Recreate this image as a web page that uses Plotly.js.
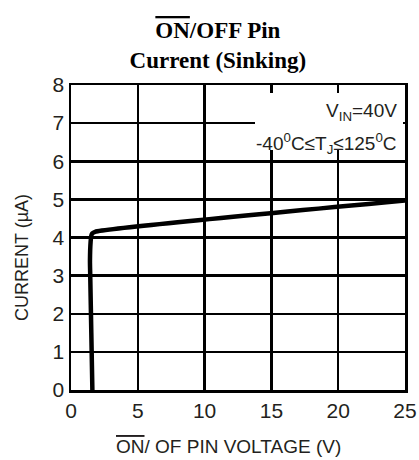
<!DOCTYPE html>
<html>
<head>
<meta charset="utf-8">
<script src="https://cdn.plot.ly/plotly-3.0.1.min.js"></script>
<style>
html,body{margin:0;padding:0;background:#fff;}
#chart{width:419px;height:460px;}
</style>
</head>
<body>
<div id="chart"></div>
<script>
// Data
const pinVoltage = [1.60, 1.52, 1.44, 1.42, 1.47, 1.52, 1.60, 1.80, 25];
const pinCurrent = [0.00, 1.50, 3.00, 3.40, 3.90, 4.05, 4.11, 4.15, 4.97];
const xTicks = [0, 5, 10, 15, 20, 25];
const yTicks = [0, 1, 2, 3, 4, 5, 6, 7, 8];

const W = 419, H = 460;
const M = {l: 71, r: 14, t: 85, b: 70};
const pw = W - M.l - M.r, ph = H - M.t - M.b;
const px = v => (v - M.l) / pw;           // page x -> paper x
const py = v => (H - M.b - v) / ph;       // page y -> paper y

const sans = 'Liberation Sans, Arial, sans-serif';
const txt = '#231f20';

const trace = {
  x: pinVoltage, y: pinCurrent, type: 'scatter', mode: 'lines',
  line: {color: '#000', width: 4.5, shape: 'spline', smoothing: 0.6},
  hoverinfo: 'skip', showlegend: false
};

const layout = {
  width: W, height: H,
  margin: M,
  paper_bgcolor: '#fff', plot_bgcolor: '#fff',
  title: {
    text: '<span style="text-decoration:overline">ON</span>/OFF Pin<br>Current (Sinking)',
    font: {family: 'Liberation Serif, Times New Roman, serif', size: 23, color: '#000', weight: 'bold'},
    x: 0.52, xanchor: 'center', xref: 'container',
    y: 1 - 38 / H, yanchor: 'top', yref: 'container'
  },
  xaxis: {
    range: [0, 25], tickvals: xTicks, ticktext: xTicks.map(String),
    showgrid: true, gridcolor: '#000', gridwidth: 2.5,
    showline: true, mirror: true, linecolor: '#000', linewidth: 2.5,
    zeroline: false, ticks: '', fixedrange: true,
    tickfont: {family: sans, size: 21, color: txt}
  },
  yaxis: {
    range: [0, 8], tickvals: yTicks, ticktext: yTicks.map(String),
    showgrid: true, gridcolor: '#000', gridwidth: 2.5,
    showline: true, mirror: true, linecolor: '#000', linewidth: 2.5,
    zeroline: false, ticks: '', fixedrange: true,
    tickfont: {family: sans, size: 21, color: txt}
  },
  shapes: [{
    type: 'rect', xref: 'paper', yref: 'paper', layer: 'above',
    x0: px(255), x1: px(403), y0: py(150), y1: py(93),
    fillcolor: '#fff', line: {width: 0}
  }],
  annotations: [
    {xref: 'paper', yref: 'paper', x: px(399), y: py(112), xanchor: 'right', yanchor: 'middle',
     text: 'V<sub>IN</sub>=40V', showarrow: false, font: {family: sans, size: 19, color: txt}},
    {xref: 'paper', yref: 'paper', x: px(399), y: py(143), xanchor: 'right', yanchor: 'middle',
     text: '-40<sup>0</sup>C≤T<sub>J</sub>≤125<sup>0</sup>C', showarrow: false, font: {family: sans, size: 19, color: txt}},
    // x-axis title
    {xref: 'paper', yref: 'paper', x: px(228), y: py(446), xanchor: 'center', yanchor: 'middle',
     text: '<span style="text-decoration:overline">ON</span>/ OF PIN VOLTAGE (V)', showarrow: false,
     font: {family: sans, size: 19, color: txt}},
    // y-axis title
    {xref: 'paper', yref: 'paper', x: px(22), y: py(258), xanchor: 'center', yanchor: 'middle',
     text: 'CURRENT (µA)', textangle: -90, showarrow: false,
     font: {family: sans, size: 18, color: txt}}
  ]
};

Plotly.newPlot('chart', [trace], layout, {displayModeBar: false, staticPlot: true});
</script>
</body>
</html>
